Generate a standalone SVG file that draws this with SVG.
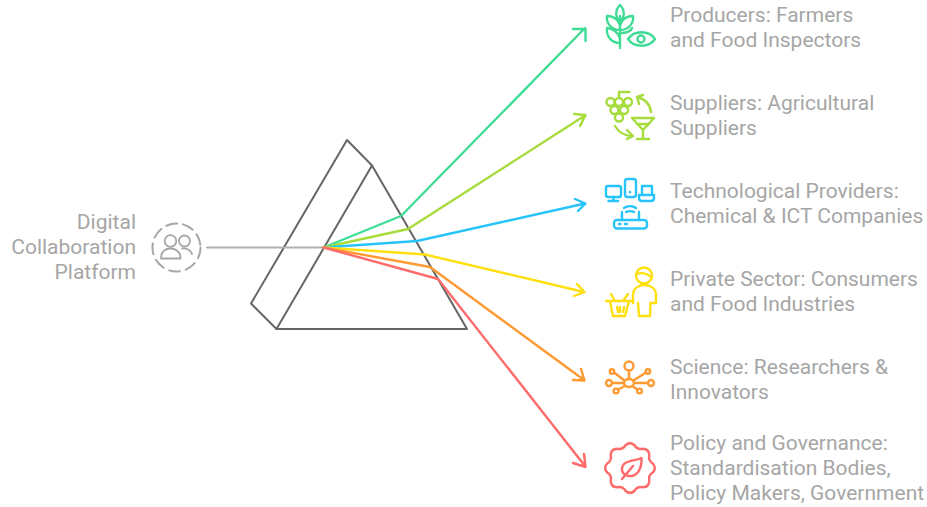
<svg xmlns="http://www.w3.org/2000/svg" width="927" height="507" viewBox="0 0 927 507">
<style>
text{font-family:Roboto,"Liberation Sans",sans-serif;font-size:21px;fill:#a6a6a6}
.e{text-anchor:end}
path,circle,rect,ellipse{fill:none;stroke-linecap:round;stroke-linejoin:round}
.i{stroke-width:2.400}
.c{stroke-width:2.400}
.g{stroke:#3fdc95}.l{stroke:#a6dc3c}.b{stroke:#27c4fb}.y{stroke:#ffdf10}.o{stroke:#ff9a32}.r{stroke:#ff6b6b}
</style>
<rect width="927" height="507" fill="#fff" stroke="none"/>
<g id="prism"><path d="M347 140L372 165.500L467 329H276.500L251 303.500Z" stroke="#666" stroke-width="2"/><path d="M372 165.500L276.500 329" stroke="#666" stroke-width="2"/></g>
<g id="connectors">
<path d="M207 247.500H323.500" stroke="#b0b0b0" stroke-width="2"/>
<path class="c g" d="M323.500 247.500L401 216L585 28M573 29H585.500V41"/>
<path class="c l" d="M323.500 247.500L408 229L585 115.500M574 114L585.500 115L580 126"/>
<path class="c b" d="M323.500 247.500L417 241L585 203.500M575 199L585.500 203.500L578 211"/>
<path class="c y" d="M323.500 247.500L425 254.500L584 292M577 284L584.500 292L574 296"/>
<path class="c o" d="M323.500 247.500L430 267L584 380M581 369L584.500 380.500L573 380"/>
<path class="c r" d="M323.500 247.500L438 279L585 466M584 454L585.500 467L573 463"/>
</g>
<g id="source">
<circle cx="176.500" cy="247.500" r="24" stroke="#a6a6a6" stroke-width="2" stroke-dasharray="11 6"/>
<circle cx="170.500" cy="241" r="5.800" stroke="#a6a6a6" stroke-width="1.800"/>
<circle cx="184.500" cy="241" r="5.500" stroke="#a6a6a6" stroke-width="1.800"/>
<path d="M161 258.500C161 251 166 248.500 170.500 248.500S180.500 251 180.500 258.500Z" stroke="#a6a6a6" stroke-width="1.800"/>
<path d="M182 248.500C187 248 191 250.500 192 254" stroke="#a6a6a6" stroke-width="1.800"/>
<text class="e" x="136" y="229">Digital</text><text class="e" x="136" y="254">Collaboration</text><text class="e" x="136" y="279">Platform</text>
</g>
<g id="producers">
<g class="i g"><path d="M620 48V16M620 5C615 10 615 17 620 22C625 17 625 10 620 5ZM607 16C606 24 612 30 620 30C621 22 615 16 607 16ZM633 16C634 24 628 30 620 30C619 22 625 16 633 16ZM607 28C606 37 612 43 620 43C621 35 615 29 607 28ZM632 28C631 31 626 33 620 33"/><path d="M628 39C634 30 649 30 655 39C649 48 634 48 628 39Z"/><circle cx="641" cy="39" r="3.500"/></g>
<text x="670" y="22">Producers: Farmers</text><text x="670" y="47">and Food Inspectors</text>
</g>
<g id="suppliers">
<g class="i l"><circle cx="610.500" cy="102" r="4"/><circle cx="619" cy="102" r="4"/><circle cx="628" cy="102" r="4"/><circle cx="614.500" cy="110" r="4"/><circle cx="624" cy="110" r="4"/><circle cx="619" cy="117.500" r="4"/><path d="M619 98V92H629.500"/><path d="M651 112C650 104 645 99 637 97M637 97L643 95M637 97L639 104"/><path d="M632 118H654L643 130ZM643 130V139M637 139H649M637 124H649"/><path d="M615 126C619 133 625 136 633 136M633 136L627 130M633 136L627 139"/></g>
<text x="670" y="110">Suppliers: Agricultural</text><text x="670" y="135">Suppliers</text>
</g>
<g id="technology">
<g class="i b"><rect x="606" y="186" width="15" height="11" rx="2"/><path d="M613.500 197V201M608.500 201H618"/><rect x="625" y="179" width="11" height="18" rx="2.500"/><path d="M630 192V192.200"/><path d="M642 186H652V195H642ZM639 195H654V198Q654 201 651 201H642Q639 201 639 198Z"/><rect x="614" y="220" width="33" height="8.500" rx="3"/><path d="M622 212V220M639 212V220M624 208C627 205.500 633 205.500 636 208M626 212C628 211 632 211 634 212"/><path d="M619 224H620.500M625 224H627"/></g>
<text x="670" y="198">Technological Providers:</text><text x="670" y="223">Chemical &amp; ICT Companies</text>
</g>
<g id="private">
<g class="i y"><circle cx="644" cy="275.500" r="8"/><path d="M637 274C642 272 648 274 652 278"/><path d="M633 303V295C633 288 639 285 644.500 285S656 288 656 295V303H650.500L650 316H639L638 303"/><path d="M606 301H633M611 294L615 301M628 294L623 301M610 301L613 316H625L629 301M617 307L618 312M620 307V312M624 307L623 312"/></g>
<text x="670" y="286">Private Sector: Consumers</text><text x="670" y="311">and Food Industries</text>
</g>
<g id="science">
<g class="i o"><ellipse cx="629" cy="383" rx="5" ry="4"/><circle cx="629" cy="366" r="4.500"/><circle cx="609" cy="383" r="3"/><circle cx="651" cy="383" r="3"/><circle cx="612" cy="371.500" r="2.200"/><circle cx="648" cy="371.500" r="2.200"/><circle cx="616" cy="391" r="2.400"/><circle cx="639.500" cy="391" r="2.400"/><path d="M629 370.500V379M612 383H624M634 383H648M614 372.500L624.500 380.500M646 372.500L633.500 380.500M618 389.500L625 386M637.500 389.500L632 386"/></g>
<text x="670" y="374">Science: Researchers &amp;</text><text x="670" y="399">Innovators</text>
</g>
<g id="policy">
<g class="i r"><path d="M652.750 463.470Q657 468 652.750 472.530Q648.020 475.460 649.290 480.890Q649.090 487.090 642.890 487.290Q637.460 486.020 634.530 490.750Q630 495 625.470 490.750Q622.540 486.020 617.110 487.290Q610.910 487.090 610.710 480.890Q611.980 475.460 607.250 472.530Q603 468 607.250 463.470Q611.980 460.540 610.710 455.110Q610.910 448.910 617.110 448.710Q622.540 449.980 625.470 445.250Q630 441 634.530 445.250Q637.460 449.980 642.890 448.710Q649.090 448.910 649.290 455.110Q648.020 460.540 652.750 463.470Z"/><path d="M622 479L633 466M641.500 458C642 469 637 477 629 476C622 475 620 469 624 464C628 460 635 461 641.500 458Z"/></g>
<text x="670" y="450">Policy and Governance:</text><text x="670" y="475">Standardisation Bodies,</text><text x="670" y="500">Policy Makers, Government</text>
</g>
</svg>
